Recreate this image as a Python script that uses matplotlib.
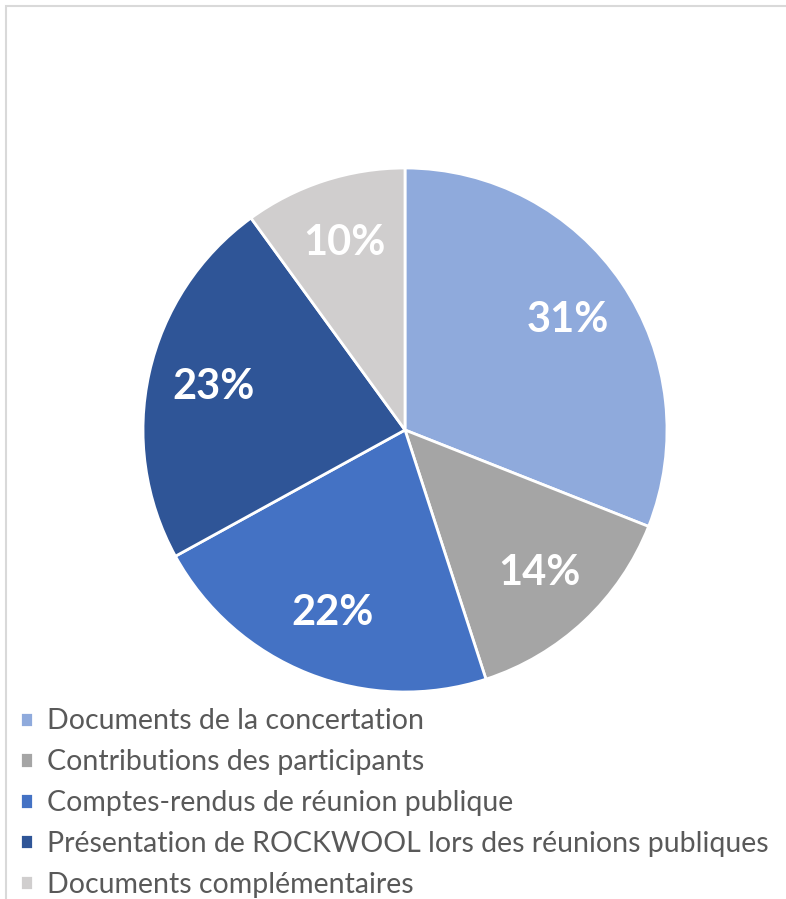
import matplotlib.pyplot as plt
import matplotlib.patches as patches

labels = ['Documents de la concertation',
          'Contributions des participants',
          'Comptes-rendus de réunion publique',
          'Présentation de ROCKWOOL lors des réunions publiques',
          'Documents complémentaires']
values = [31, 14, 22, 23, 10]
colors = ['#8FAADC', '#A5A5A5', '#4472C4', '#2F5597', '#D0CECE']

W, H = 786, 899
fig = plt.figure(figsize=(W / 100, H / 100), dpi=100)

# chart frame (light gray, only top and left visible)
frame = patches.Rectangle((6 / W, -0.1), 1.2, 1 - 6 / H + 0.1, transform=fig.transFigure,
                          fill=False, edgecolor='#D9D9D9', linewidth=1.5)
fig.patches.append(frame)

cx, cy, r = 405, 430, 262
ax = fig.add_axes([(cx - r) / W, (H - cy - r) / H, 2 * r / W, 2 * r / H])
wedges, texts, autotexts = ax.pie(values, colors=colors, startangle=90, counterclock=False,
                                  autopct='%d%%', pctdistance=0.75, radius=1,
                                  wedgeprops=dict(edgecolor='white', linewidth=2))
for t in autotexts:
    t.set_color('white')
    t.set_fontsize(30)
    t.set_fontweight('bold')
    t.set_fontfamily('Lato')
ax.set_xlim(-1, 1)
ax.set_ylim(-1, 1)
ax.set_aspect('equal')

leg = fig.legend(wedges, labels, loc='upper left', bbox_to_anchor=(9 / W, 1 - 697 / H),
                 frameon=False, prop={'family': 'Lato', 'size': 20.5},
                 handlelength=0.45, handleheight=0.45, handletextpad=0.5,
                 labelspacing=0.52, borderaxespad=0)
for t in leg.get_texts():
    t.set_color('#595959')

fig.savefig('out.png', dpi=100)
